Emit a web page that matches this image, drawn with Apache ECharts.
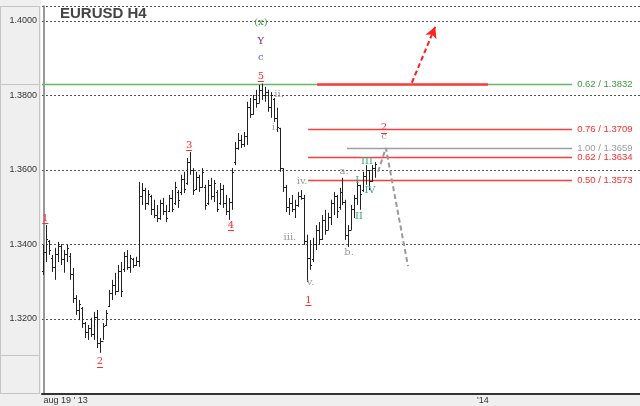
<!DOCTYPE html>
<html><head><meta charset="utf-8">
<script src="https://cdn.jsdelivr.net/npm/echarts@6/dist/echarts.min.js"></script>
<style>html,body{margin:0;padding:0;background:#fff}#c{width:640px;height:406px}</style>
</head><body><div id="c"></div>
<script>
// ---- data ----
const opens=[1.3330,1.3380,1.3410,1.3365,1.3340,1.3375,1.3395,1.3360,1.3375,1.3370,
1.3320,1.3255,1.3225,1.3230,1.3190,1.3165,1.3175,1.3160,1.3205,1.3135,
1.3140,1.3185,1.3235,1.3270,1.3290,1.3275,1.3330,1.3335,1.3370,1.3340,
1.3360,1.3345,1.3355,1.3530,1.3545,1.3510,1.3530,1.3495,1.3480,1.3470,
1.3510,1.3490,1.3490,1.3525,1.3510,1.3540,1.3540,1.3575,1.3565,1.3620,
1.3600,1.3550,1.3580,1.3555,1.3555,1.3510,1.3560,1.3530,1.3540,1.3510,
1.3550,1.3510,1.3490,1.3515,1.3620,1.3660,1.3680,1.3670,1.3690,1.3770,
1.3750,1.3790,1.3780,1.3815,1.3800,1.3810,1.3770,1.3790,1.3740,1.3713,
1.3605,1.3555,1.3500,1.3510,1.3495,1.3505,1.3530,1.3525,1.3410,1.3365,
1.3360,1.3400,1.3440,1.3415,1.3465,1.3440,1.3475,1.3510,1.3530,1.3500,
1.3540,1.3515,1.3425,1.3440,1.3495,1.3525,1.3560,1.3545,1.3585,1.3600,
1.3570,1.3605];
const highs=[1.3399,1.3452,1.3412,1.3372,1.3391,1.3407,1.3401,1.3385,1.3399,1.3377,
1.3337,1.3264,1.3251,1.3232,1.3192,1.3184,1.3203,1.3219,1.3224,1.3149,
1.3189,1.3224,1.3278,1.3305,1.3324,1.3345,1.3353,1.3380,1.3385,1.3372,
1.3364,1.3367,1.3568,1.3565,1.3552,1.3546,1.3533,1.3520,1.3506,1.3520,
1.3525,1.3506,1.3533,1.3546,1.3568,1.3546,1.3587,1.3595,1.3632,1.3648,
1.3605,1.3595,1.3587,1.3605,1.3560,1.3573,1.3579,1.3573,1.3546,1.3565,
1.3560,1.3533,1.3525,1.3605,1.3675,1.3699,1.3694,1.3702,1.3783,1.3793,
1.3801,1.3815,1.3828,1.3832,1.3823,1.3815,1.3809,1.3793,1.3767,1.3713,
1.3605,1.3560,1.3525,1.3533,1.3520,1.3541,1.3546,1.3533,1.3426,1.3412,
1.3418,1.3452,1.3460,1.3479,1.3493,1.3485,1.3520,1.3541,1.3533,1.3552,
1.3579,1.3520,1.3452,1.3506,1.3533,1.3573,1.3560,1.3595,1.3613,1.3600,
1.3613,1.3621];
const lows=[1.3318,1.3353,1.3372,1.3326,1.3305,1.3353,1.3345,1.3324,1.3353,1.3305,
1.3243,1.3211,1.3197,1.3176,1.3149,1.3144,1.3152,1.3144,1.3122,1.3109,
1.3144,1.3181,1.3232,1.3251,1.3264,1.3273,1.3259,1.3326,1.3332,1.3324,
1.3337,1.3342,1.3340,1.3506,1.3493,1.3506,1.3479,1.3471,1.3460,1.3466,
1.3479,1.3460,1.3487,1.3487,1.3506,1.3498,1.3533,1.3538,1.3560,1.3587,
1.3533,1.3546,1.3541,1.3552,1.3493,1.3506,1.3520,1.3514,1.3487,1.3506,
1.3498,1.3479,1.3466,1.3493,1.3613,1.3654,1.3659,1.3662,1.3667,1.3740,
1.3748,1.3767,1.3780,1.3788,1.3783,1.3756,1.3740,1.3729,1.3702,1.3595,
1.3541,1.3487,1.3479,1.3487,1.3471,1.3501,1.3520,1.3399,1.3299,1.3332,
1.3353,1.3385,1.3399,1.3412,1.3426,1.3439,1.3452,1.3479,1.3471,1.3493,
1.3506,1.3412,1.3393,1.3439,1.3471,1.3506,1.3493,1.3541,1.3560,1.3546,
1.3568,1.3579];
const closes=[1.3380,1.3415,1.3385,1.3340,1.3375,1.3395,1.3360,1.3375,1.3390,1.3320,
1.3255,1.3225,1.3240,1.3190,1.3165,1.3175,1.3160,1.3205,1.3135,1.3140,
1.3180,1.3215,1.3270,1.3290,1.3275,1.3330,1.3275,1.3370,1.3340,1.3365,
1.3345,1.3355,1.3530,1.3545,1.3510,1.3535,1.3495,1.3480,1.3470,1.3510,
1.3490,1.3470,1.3525,1.3495,1.3555,1.3520,1.3575,1.3550,1.3620,1.3600,
1.3545,1.3580,1.3555,1.3595,1.3505,1.3560,1.3530,1.3565,1.3495,1.3550,
1.3510,1.3490,1.3515,1.3595,1.3660,1.3680,1.3670,1.3690,1.3770,1.3750,
1.3790,1.3780,1.3815,1.3800,1.3810,1.3770,1.3800,1.3740,1.3715,1.3605,
1.3555,1.3500,1.3510,1.3495,1.3505,1.3530,1.3525,1.3410,1.3365,1.3345,
1.3400,1.3440,1.3415,1.3465,1.3440,1.3475,1.3510,1.3530,1.3490,1.3540,
1.3515,1.3425,1.3440,1.3495,1.3525,1.3560,1.3535,1.3585,1.3600,1.3570,
1.3605,1.3615];
const totalSlots = 200;
const xTickValues = [0, 145];
const xTickLabels = ["aug 19 ' 13", "'14"];
const yTicks = [1.32, 1.34, 1.36, 1.38, 1.40];

// fibonacci levels: [ratio, price, startIndex, endIndex, colour group]
const fibLevels = [
  ['0.62', 1.3832, -0.5, 176.8, 'green'],
  ['0.76', 1.3709, 88.5, 176.8, 'red'],
  ['1.00', 1.3659, 101.5, 176.8, 'grey'],
  ['0.62', 1.3634, 88.5, 176.8, 'red'],
  ['0.50', 1.3573, 88.5, 176.8, 'red']
];
const targetZone = [91.5, 148.7, 1.3832];
const arrowPath = [[123.2, 1.3834], [131.0, 1.3984]];
const projection = [[111.9, 1.3595], [114.5, 1.3659], [121.9, 1.3342]];

// wave labels: [index, price, text, group]
const waveLabels = [
  [0.6, 1.3471, '1', 'red'],
  [18.9, 1.3085, '2', 'red'],
  [48.7, 1.3667, '3', 'red'],
  [62.7, 1.3452, '4', 'red'],
  [72.7, 1.3852, '5', 'red'],
  [72.7, 1.3901, 'c', 'blue'],
  [72.7, 1.3946, 'Y', 'purple'],
  [72.7, 1.3995, '(x)', 'green'],
  [78.8, 1.3804, 'ii.', 'grey'],
  [77.4, 1.3713, 'i.', 'grey'],
  [82.4, 1.3420, 'iii.', 'grey'],
  [86.5, 1.3568, 'iv.', 'grey'],
  [89.3, 1.3297, 'v.', 'grey'],
  [88.6, 1.3251, '1', 'red'],
  [100.5, 1.3597, 'a.', 'grey'],
  [102.2, 1.3380, 'b.', 'grey'],
  [104.9, 1.3571, 'I', 'teal'],
  [105.5, 1.3474, 'II', 'teal'],
  [108.2, 1.3624, 'III', 'teal'],
  [109.2, 1.3544, 'IV', 'teal'],
  [113.9, 1.3713, '2', 'red'],
  [113.9, 1.3689, 'c', 'grey']
];

// ---- styles ----
const colors = {red:'#ff2a2a', green:'#3c9a3c', grey:'#999999', blue:'#5a5aff', purple:'#8a2f6a', teal:'#3aa88a'};
const lineColors = {red:'#ff3c3c', green:'#66b866', grey:'#a0a0a0'};
const underlined = {red:true};

const bars = opens.map((o,i)=>[i, o, highs[i], lows[i], closes[i]]);

const chart = echarts.init(document.getElementById('c'), null, {renderer:'canvas'});

chart.setOption({
  animation:false,
  backgroundColor:'#ffffff',
  title:{text:'EURUSD H4', left:55, top:1, textStyle:{fontSize:15, fontWeight:'bold', color:'#444', fontFamily:'Liberation Sans, Arial'}},
  graphic:[
    {type:'rect', z:-10, shape:{x:0,y:0,width:41,height:406}, style:{fill:'#efefef'}},
    {type:'rect', z:-10, shape:{x:0,y:394,width:640,height:12}, style:{fill:'#efefef'}},
    {type:'rect', z:-9, shape:{x:0.5,y:6.5,width:39,height:78}, style:{fill:'none', stroke:'#c4c4c4'}},
    {type:'rect', z:-9, shape:{x:0.5,y:84.5,width:39,height:271}, style:{fill:'none', stroke:'#c4c4c4'}},
    {type:'rect', z:-9, shape:{x:0.5,y:355.5,width:39,height:38}, style:{fill:'none', stroke:'#c4c4c4'}}
  ],
  grid:{left:42, right:0, top:6, bottom:12.5},
  xAxis:{type:'value', min:-0.5, max:totalSlots-0.5,
    axisLine:{show:true, onZero:false, lineStyle:{color:'#333', width:2}},
    axisTick:{show:false}, splitLine:{show:false},
    axisLabel:{customValues:xTickValues, align:'left', margin:3, fontSize:9, color:'#333', fontFamily:'Liberation Sans, Arial',
      formatter:(v)=>{const k=xTickValues.indexOf(Math.round(v)); return k>=0?xTickLabels[k]:'';}}},
  yAxis:{type:'value', min:1.30, max:1.404, interval:0.02,
    axisLine:{show:true, lineStyle:{color:'#777', width:1.5}},
    axisTick:{show:false},
    axisLabel:{showMinLabel:false, showMaxLabel:true, margin:5, fontSize:9, color:'#333', fontFamily:'Liberation Sans, Arial',
      formatter:(v)=> yTicks.some(t=>Math.abs(t-v)<1e-6) ? v.toFixed(4) : ''},
    splitLine:{show:true, lineStyle:{color:'#555', width:1, type:[2,2]}}},
  series:[
    {type:'custom', z:2, silent:true,
     data: fibLevels.map(f=>[f[2], f[3], f[1]]),
     encode:{x:[0,1], y:2},
     renderItem:(params, api)=>{
       const f = fibLevels[params.dataIndex];
       const a = api.coord([api.value(0), api.value(2)]);
       const b = api.coord([api.value(1), api.value(2)]);
       const y = Math.round(a[1])+0.5;
       return {type:'group', children:[
         {type:'line', shape:{x1:a[0], y1:y, x2:b[0], y2:y}, style:{stroke:lineColors[f[4]], lineWidth:1.4}},
         {type:'text', x:b[0]+5, y:y, style:{text:f[0]+' / '+f[1].toFixed(4), fill:colors[f[4]], font:'9.5px "Liberation Sans", Arial', align:'left', verticalAlign:'middle'}}
       ]};
     }},
    {type:'custom', z:3, silent:true,
     data:[targetZone], encode:{x:[0,1], y:2},
     renderItem:(params, api)=>{
       const a = api.coord([api.value(0), api.value(2)]);
       const b = api.coord([api.value(1), api.value(2)]);
       const y = Math.round(a[1])+0.5;
       return {type:'line', shape:{x1:a[0], y1:y, x2:b[0], y2:y}, style:{stroke:'#ff3b3b', lineWidth:2.5}};
     }},
    {type:'line', data:projection, symbol:'none', silent:true, z:3,
     lineStyle:{color:'#9a9a9a', width:2, type:[5,3]}},
    {type:'line', data:[], silent:true, symbol:'none',
     markLine:{silent:true, symbol:['none','arrow'], symbolSize:[9,11], animation:false,
       lineStyle:{color:'#ff2020', width:2, type:[5,3]}, label:{show:false},
       data:[[{coord:arrowPath[0]},{coord:arrowPath[1]}]]}},
    {type:'custom', data:bars, z:4, encode:{x:0, y:[1,2,3,4]},
     renderItem:(params, api)=>{
       const x=api.value(0);
       const o=api.coord([x,api.value(1)]), h=api.coord([x,api.value(2)]), l=api.coord([x,api.value(3)]), c=api.coord([x,api.value(4)]);
       const xx=Math.round(h[0])+0.5;
       const st={stroke:'#222', lineWidth:1};
       return {type:'group', children:[
         {type:'line', shape:{x1:xx,y1:h[1],x2:xx,y2:l[1]}, style:st},
         {type:'line', shape:{x1:xx-1.5,y1:Math.round(o[1])+0.5,x2:xx,y2:Math.round(o[1])+0.5}, style:st},
         {type:'line', shape:{x1:xx,y1:Math.round(c[1])+0.5,x2:xx+1.5,y2:Math.round(c[1])+0.5}, style:st}
       ]};
     }},
    {type:'custom', z:6, silent:true,
     data: waveLabels.map(w=>[w[0], w[1]]),
     encode:{x:0, y:1},
     renderItem:(params, api)=>{
       const w = waveLabels[params.dataIndex];
       const p = api.coord([api.value(0), api.value(1)]);
       const col = colors[w[3]];
       const children = [{type:'text', x:p[0], y:p[1], style:{text:w[2], fill:col, font:'10px "DejaVu Serif", "Liberation Serif", serif', align:'center', verticalAlign:'middle'}}];
       if (underlined[w[3]]) children.push({type:'line', shape:{x1:p[0]-3, y1:Math.round(p[1])+5.5, x2:p[0]+3, y2:Math.round(p[1])+5.5}, style:{stroke:col, lineWidth:1}});
       return {type:'group', children};
     }}
  ]
});
</script></body></html>
